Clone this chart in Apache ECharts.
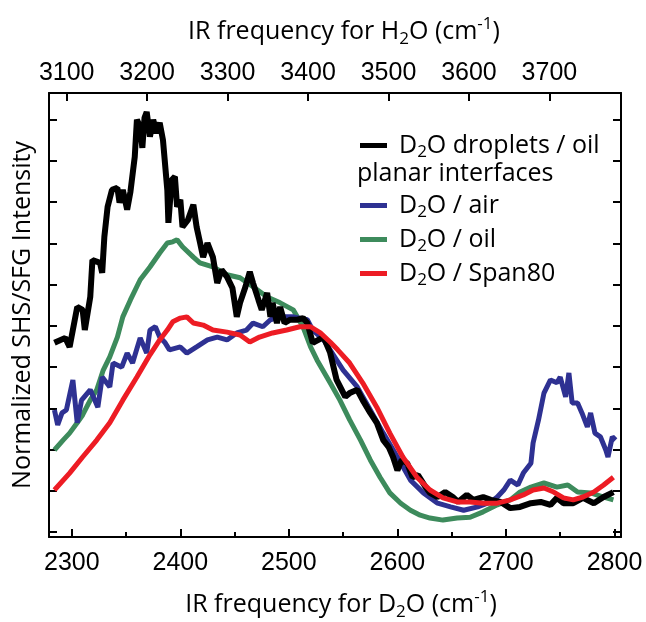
<!DOCTYPE html>
<html>
<head>
<meta charset="utf-8">
<script src="https://cdn.jsdelivr.net/npm/echarts@6/dist/echarts.min.js"></script>
<style>
  html, body { margin: 0; padding: 0; background: #fff; }
  #container { width: 646px; height: 622px; }
</style>
</head>
<body>
<div id="container"></div>
<script>
var dom = document.getElementById('container');
var myChart = echarts.init(dom, null, { renderer: 'canvas' });

// D2O frequency (cm-1), normalized intensity (tick units)
const dropletsOil = [
  [2284, 4.59], [2294, 4.71], [2298, 4.49], [2305, 5.46], [2310, 5.39], [2312, 4.90],
  [2317, 5.70], [2319, 6.60], [2326, 6.53], [2328, 6.29], [2330, 7.16], [2333, 7.89],
  [2337, 8.30], [2342, 8.35], [2344, 7.99], [2347, 8.30], [2351, 7.82], [2354, 8.25],
  [2358, 9.10], [2360, 10.00], [2363, 9.83], [2365, 9.32], [2367, 10.05], [2369, 10.19],
  [2372, 9.59], [2375, 10.00], [2378, 9.68], [2381, 9.93], [2384, 9.51], [2388, 8.30],
  [2389, 7.50], [2392, 8.54], [2395, 8.62], [2397, 7.89], [2400, 8.06], [2402, 7.40],
  [2407, 7.57], [2412, 7.94], [2415, 7.40], [2418, 7.04], [2421, 6.67], [2425, 7.01],
  [2430, 6.67], [2434, 6.04], [2438, 6.36], [2443, 6.19], [2448, 5.92], [2452, 5.22],
  [2455, 5.56], [2460, 5.95], [2464, 6.31], [2467, 6.04], [2472, 5.63], [2475, 5.39],
  [2480, 5.80], [2483, 5.22], [2485, 5.56], [2489, 5.07], [2492, 5.46], [2496, 5.07],
  [2501, 5.15], [2508, 5.15], [2513, 5.19], [2517, 5.07], [2522, 4.59], [2532, 4.73],
  [2538, 4.35], [2544, 3.69], [2552, 3.28], [2556, 3.37], [2563, 3.45], [2568, 3.20],
  [2575, 2.89], [2581, 2.65], [2587, 2.23], [2592, 2.06], [2596, 1.82], [2600, 1.50],
  [2604, 1.75], [2609, 1.67], [2614, 1.33], [2619, 1.38], [2626, 1.09], [2630, 0.95],
  [2637, 0.85], [2644, 0.97], [2651, 0.85], [2656, 0.73], [2664, 0.90], [2670, 0.78],
  [2679, 0.85], [2686, 0.78], [2695, 0.73], [2704, 0.58], [2713, 0.61], [2723, 0.70],
  [2732, 0.73], [2741, 0.66], [2747, 0.83], [2753, 0.70], [2762, 0.70], [2771, 0.83],
  [2781, 0.70], [2790, 0.85], [2799, 0.97]
];
const planarAir = [
  [2284, 2.96], [2287, 2.60], [2291, 2.89], [2295, 2.96], [2301, 3.69], [2305, 2.65],
  [2309, 3.20], [2317, 3.45], [2324, 3.03], [2328, 3.76], [2335, 3.52], [2338, 4.10],
  [2346, 4.00], [2351, 4.34], [2356, 4.10], [2363, 4.71], [2369, 4.34], [2372, 4.90],
  [2377, 4.98], [2381, 4.73], [2386, 4.59], [2390, 4.42], [2400, 4.49], [2406, 4.34],
  [2415, 4.49], [2425, 4.66], [2434, 4.73], [2443, 4.66], [2452, 4.83], [2461, 4.90],
  [2467, 5.07], [2476, 4.98], [2483, 5.15], [2492, 5.22], [2504, 5.22], [2517, 5.15],
  [2522, 4.90], [2532, 4.66], [2538, 4.42], [2550, 3.93], [2563, 3.52], [2575, 2.96],
  [2587, 2.40], [2600, 1.82], [2612, 1.26], [2624, 0.95], [2637, 0.70], [2649, 0.61],
  [2661, 0.53], [2674, 0.61], [2686, 0.73], [2692, 0.85], [2698, 1.02], [2704, 1.26],
  [2711, 1.14], [2716, 1.43], [2723, 1.67], [2725, 2.16], [2730, 2.72], [2735, 3.37],
  [2741, 3.69], [2747, 3.62], [2750, 3.76], [2755, 3.28], [2758, 3.86], [2761, 3.13],
  [2766, 3.13], [2770, 2.89], [2775, 2.55], [2778, 2.89], [2782, 2.40], [2787, 2.31],
  [2792, 1.99], [2794, 1.82], [2798, 2.31], [2801, 2.23]
];
const planarOil = [
  [2284, 1.99], [2292, 2.23], [2298, 2.40], [2305, 2.65], [2310, 2.84], [2317, 3.20],
  [2323, 3.45], [2329, 3.93], [2335, 4.25], [2342, 4.73], [2347, 5.22], [2354, 5.63],
  [2363, 6.12], [2372, 6.43], [2381, 6.77], [2388, 7.01], [2393, 7.04], [2397, 7.09],
  [2402, 6.92], [2412, 6.67], [2418, 6.53], [2430, 6.43], [2443, 6.24], [2455, 6.17],
  [2467, 5.95], [2480, 5.70], [2492, 5.56], [2504, 5.39], [2513, 4.98], [2520, 4.49],
  [2526, 4.17], [2538, 3.62], [2547, 3.20], [2556, 2.72], [2566, 2.23], [2575, 1.75],
  [2584, 1.33], [2593, 0.95], [2603, 0.70], [2612, 0.53], [2621, 0.41], [2630, 0.34],
  [2642, 0.29], [2655, 0.34], [2667, 0.36], [2679, 0.49], [2692, 0.66], [2704, 0.78],
  [2713, 0.97], [2723, 1.09], [2735, 1.19], [2747, 1.09], [2757, 1.14], [2766, 0.97],
  [2778, 0.95], [2790, 0.85], [2799, 0.78]
];
const planarSpan80 = [
  [2284, 1.02], [2298, 1.43], [2310, 1.82], [2323, 2.23], [2335, 2.65], [2347, 3.20],
  [2360, 3.76], [2372, 4.30], [2381, 4.66], [2388, 4.90], [2393, 5.10], [2400, 5.19],
  [2406, 5.22], [2412, 5.07], [2421, 5.02], [2430, 4.90], [2443, 4.85], [2455, 4.78],
  [2464, 4.61], [2473, 4.73], [2485, 4.83], [2498, 4.90], [2510, 4.98], [2520, 4.98],
  [2529, 4.83], [2538, 4.61], [2545, 4.42], [2556, 4.10], [2568, 3.62], [2581, 3.03],
  [2593, 2.40], [2605, 1.82], [2618, 1.33], [2630, 1.02], [2642, 0.83], [2655, 0.73],
  [2667, 0.73], [2679, 0.70], [2692, 0.70], [2704, 0.78], [2716, 0.90], [2725, 1.02],
  [2735, 1.07], [2744, 0.97], [2753, 0.83], [2762, 0.78], [2771, 0.85], [2781, 0.97],
  [2790, 1.14], [2799, 1.33]
];

const d2oTicks = [2300, 2400, 2500, 2600, 2700, 2800];
const d2oMinorTicks = [2350, 2450, 2550, 2650, 2750];
const h2oTicks = [3100, 3200, 3300, 3400, 3500, 3600, 3700];
const yTicks = [0, 1, 2, 3, 4, 5, 6, 7, 8, 9, 10];

const seriesNames = ['D2O droplets / oil', 'D2O / air', 'D2O / oil', 'D2O / Span80'];
const colors = ['#000000', '#2e3192', '#3d8b5c', '#ed1c24'];

const sans = 'Open Sans';
// subscript / superscript tokens are shifted with padding, line height kept small
const richText = {
  t: { fontFamily: sans, fontSize: 25, lineHeight: 28, color: '#000' },
  s: { fontFamily: sans, fontSize: 17, lineHeight: 10, color: '#000', padding: [14, 0, 0, 0] }
};
const titleRich = {
  t: { fontFamily: sans, fontSize: 25, lineHeight: 30, color: '#000' },
  s: { fontFamily: sans, fontSize: 17, lineHeight: 10, color: '#000', padding: [14, 0, 0, 0] },
  p: { fontFamily: sans, fontSize: 17, lineHeight: 10, color: '#000', padding: [0, 0, 16, 0] }
};

function legendLabel(name) {
  return name.replace(/^D2O(.*)$/, '{t|D}{s|2}{t|O$1}');
}
function plain(v) {
  return String(v);
}

const frame = { show: true, onZero: false, lineStyle: { color: '#000', width: 2 } };
const tickLabel = { fontFamily: 'Liberation Sans', fontSize: 25, color: '#000', formatter: plain };

var option = {
  animation: false,
  grid: { left: 49, right: 25, top: 93, bottom: 85, outerBoundsMode: 'none' },
  legend: [
    {
      data: [seriesNames[0]],
      orient: 'vertical', left: 360, top: 130, itemGap: 3, padding: 0,
      itemWidth: 27, itemHeight: 5, icon: 'rect',
      formatter: legendLabel,
      textStyle: { padding: [0, 0, 0, 7], rich: richText }
    },
    {
      data: seriesNames.slice(1),
      orient: 'vertical', left: 360, top: 190, itemGap: 3, padding: 0,
      itemWidth: 27, itemHeight: 5, icon: 'rect',
      formatter: legendLabel,
      textStyle: { padding: [0, 0, 0, 7], rich: richText }
    }
  ],
  graphic: [
    {
      type: 'text', left: 357, top: 161,
      style: { text: 'planar interfaces', fontFamily: sans, fontSize: 25, fill: '#000' }
    }
  ],
  xAxis: [
    {
      type: 'value', position: 'bottom', min: 2279, max: 2806,
      name: '{t|IR frequency for D}{s|2}{t|O (cm}{p|-1}{t|)}',
      nameLocation: 'middle', nameGap: 53, nameMoveOverlap: false,
      nameTextStyle: { rich: titleRich, padding: [0, 0, 0, 12] },
      axisLine: frame,
      axisTick: { inside: true, length: 8, lineStyle: { width: 2, color: '#000' }, customValues: d2oTicks },
      axisLabel: Object.assign({ margin: 14, customValues: d2oTicks }, tickLabel),
      splitLine: { show: false }
    },
    {
      type: 'value', position: 'top', min: 3078, max: 3789,
      name: '{t|IR frequency for H}{s|2}{t|O (cm}{p|-1}{t|)}',
      nameLocation: 'middle', nameGap: 46, nameMoveOverlap: false,
      nameTextStyle: { rich: titleRich, padding: [0, 0, 0, 18] },
      axisLine: frame,
      axisTick: { inside: true, length: 8, lineStyle: { width: 2, color: '#000' }, customValues: h2oTicks },
      axisLabel: Object.assign({ margin: 7, customValues: h2oTicks }, tickLabel),
      splitLine: { show: false }
    },
    {
      type: 'value', position: 'bottom', min: 2279, max: 2806,
      axisLine: { show: false, onZero: false },
      axisTick: { inside: true, length: 5, lineStyle: { width: 2, color: '#000' }, customValues: d2oMinorTicks },
      axisLabel: { show: false },
      splitLine: { show: false }
    }
  ],
  yAxis: [
    {
      type: 'value', position: 'left', min: -0.12, max: 10.65,
      name: 'Normalized SHS/SFG Intensity',
      nameLocation: 'middle', nameGap: 14, nameMoveOverlap: false,
      nameTextStyle: { fontFamily: sans, fontSize: 25, color: '#000' },
      axisLine: frame,
      axisTick: { inside: true, length: 8, lineStyle: { width: 2, color: '#000' }, customValues: yTicks },
      axisLabel: { show: false },
      splitLine: { show: false }
    },
    {
      type: 'value', position: 'right', min: -0.12, max: 10.65,
      axisLine: frame,
      axisTick: { inside: true, length: 8, lineStyle: { width: 2, color: '#000' }, customValues: yTicks },
      axisLabel: { show: false },
      splitLine: { show: false }
    }
  ],
  series: [
    {
      name: seriesNames[2], type: 'line', data: planarOil, showSymbol: false,
      itemStyle: { color: colors[2] }, lineStyle: { color: colors[2], width: 5 }, z: 2
    },
    {
      name: seriesNames[1], type: 'line', data: planarAir, showSymbol: false,
      itemStyle: { color: colors[1] }, lineStyle: { color: colors[1], width: 5 }, z: 3
    },
    {
      name: seriesNames[0], type: 'line', data: dropletsOil, showSymbol: false,
      itemStyle: { color: colors[0] }, lineStyle: { color: colors[0], width: 6 }, z: 4
    },
    {
      name: seriesNames[3], type: 'line', data: planarSpan80, showSymbol: false,
      itemStyle: { color: colors[3] }, lineStyle: { color: colors[3], width: 5 }, z: 5
    }
  ]
};

myChart.setOption(option);
window.addEventListener('resize', myChart.resize);
</script>
</body>
</html>
